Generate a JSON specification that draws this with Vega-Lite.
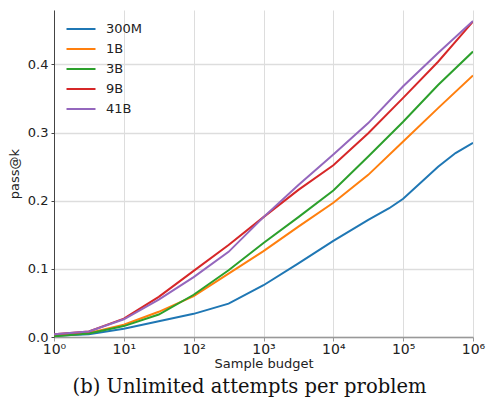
{
  "$schema": "https://vega.github.io/schema/vega-lite/v6.json",
  "width": 419,
  "height": 327,
  "autosize": {"type": "none"},
  "padding": {"left": 54, "top": 10, "right": 23, "bottom": 74},
  "background": "white",
  "title": {"text": "(b) Unlimited attempts per problem", "orient": "bottom", "font": "DejaVu Serif", "fontSize": 19.5, "fontWeight": "normal", "color": "#111", "offset": 8, "anchor": "middle", "dx": -14},
  "data": {"values": [
    {"k": 1, "model": "300M", "p": 0.002}, {"k": 3.162, "model": "300M", "p": 0.004}, {"k": 10, "model": "300M", "p": 0.012}, {"k": 31.62, "model": "300M", "p": 0.023}, {"k": 100, "model": "300M", "p": 0.034}, {"k": 316.2, "model": "300M", "p": 0.049}, {"k": 1000, "model": "300M", "p": 0.076}, {"k": 3162, "model": "300M", "p": 0.108}, {"k": 10000, "model": "300M", "p": 0.141}, {"k": 31623, "model": "300M", "p": 0.172}, {"k": 63096, "model": "300M", "p": 0.189}, {"k": 100000, "model": "300M", "p": 0.203}, {"k": 316228, "model": "300M", "p": 0.250}, {"k": 562341, "model": "300M", "p": 0.270}, {"k": 1000000, "model": "300M", "p": 0.285},
    {"k": 1, "model": "1B", "p": 0.002}, {"k": 3.162, "model": "1B", "p": 0.006}, {"k": 10, "model": "1B", "p": 0.018}, {"k": 31.62, "model": "1B", "p": 0.037}, {"k": 100, "model": "1B", "p": 0.060}, {"k": 316.2, "model": "1B", "p": 0.093}, {"k": 1000, "model": "1B", "p": 0.126}, {"k": 3162, "model": "1B", "p": 0.162}, {"k": 10000, "model": "1B", "p": 0.197}, {"k": 31623, "model": "1B", "p": 0.238}, {"k": 100000, "model": "1B", "p": 0.287}, {"k": 316228, "model": "1B", "p": 0.336}, {"k": 1000000, "model": "1B", "p": 0.384},
    {"k": 1, "model": "3B", "p": 0.001}, {"k": 3.162, "model": "3B", "p": 0.005}, {"k": 10, "model": "3B", "p": 0.016}, {"k": 31.62, "model": "3B", "p": 0.033}, {"k": 100, "model": "3B", "p": 0.062}, {"k": 316.2, "model": "3B", "p": 0.098}, {"k": 1000, "model": "3B", "p": 0.138}, {"k": 3162, "model": "3B", "p": 0.176}, {"k": 10000, "model": "3B", "p": 0.215}, {"k": 31623, "model": "3B", "p": 0.265}, {"k": 100000, "model": "3B", "p": 0.316}, {"k": 316228, "model": "3B", "p": 0.370}, {"k": 1000000, "model": "3B", "p": 0.419},
    {"k": 1, "model": "9B", "p": 0.004}, {"k": 3.162, "model": "9B", "p": 0.008}, {"k": 10, "model": "9B", "p": 0.027}, {"k": 31.62, "model": "9B", "p": 0.059}, {"k": 100, "model": "9B", "p": 0.097}, {"k": 316.2, "model": "9B", "p": 0.135}, {"k": 1000, "model": "9B", "p": 0.176}, {"k": 3162, "model": "9B", "p": 0.216}, {"k": 10000, "model": "9B", "p": 0.252}, {"k": 31623, "model": "9B", "p": 0.299}, {"k": 100000, "model": "9B", "p": 0.351}, {"k": 316228, "model": "9B", "p": 0.404}, {"k": 1000000, "model": "9B", "p": 0.463},
    {"k": 1, "model": "41B", "p": 0.004}, {"k": 3.162, "model": "41B", "p": 0.008}, {"k": 10, "model": "41B", "p": 0.026}, {"k": 31.62, "model": "41B", "p": 0.055}, {"k": 100, "model": "41B", "p": 0.088}, {"k": 316.2, "model": "41B", "p": 0.125}, {"k": 1000, "model": "41B", "p": 0.176}, {"k": 3162, "model": "41B", "p": 0.223}, {"k": 10000, "model": "41B", "p": 0.268}, {"k": 31623, "model": "41B", "p": 0.314}, {"k": 100000, "model": "41B", "p": 0.368}, {"k": 316228, "model": "41B", "p": 0.417}, {"k": 1000000, "model": "41B", "p": 0.464}
  ]},
  "mark": {"type": "line", "strokeWidth": 2, "clip": true},
  "encoding": {
    "x": {"field": "k", "type": "quantitative",
      "scale": {"type": "log", "domain": [1, 1000000], "nice": false},
      "axis": {"title": "Sample budget", "values": [1, 10, 100, 1000, 10000, 100000, 1000000],
        "labelExpr": "'10' + ['⁰','¹','²','³','⁴','⁵','⁶'][round(log(datum.value)/LN10)]",
        "labelFlush": false,
        "labelFont": "DejaVu Sans", "labelFontSize": 14, "labelColor": "#222", "labelPadding": 1,
        "titleFont": "DejaVu Sans", "titleFontSize": 13, "titleFontWeight": "normal", "titleColor": "#222", "titlePadding": 1,
        "grid": true, "gridColor": "#dddddd", "gridWidth": 1,
        "domainColor": "#999999", "domainWidth": 1.5, "tickColor": "#999999", "tickSize": 4, "tickWidth": 1}},
    "y": {"field": "p", "type": "quantitative",
      "scale": {"domain": [0, 0.48], "nice": false},
      "axis": {"title": "pass@k", "values": [0, 0.1, 0.2, 0.3, 0.4], "format": ".1f",
        "labelFont": "DejaVu Sans", "labelFontSize": 13, "labelColor": "#222", "labelPadding": 3,
        "titleFont": "DejaVu Sans", "titleFontSize": 13, "titleFontWeight": "normal", "titleColor": "#222", "titlePadding": 6,
        "grid": true, "gridColor": "#dddddd", "gridWidth": 1.5,
        "domainColor": "#444444", "domainWidth": 1, "tickColor": "#444444", "tickSize": 3}},
    "color": {"field": "model", "type": "nominal",
      "scale": {"domain": ["300M", "1B", "3B", "9B", "41B"], "range": ["#1f77b4", "#ff7f0e", "#2ca02c", "#d62728", "#9467bd"]},
      "legend": {"title": null, "orient": "none", "legendX": 16, "legendY": 8, "symbolType": "M-1.45,0H1.45", "symbolSize": 400, "symbolStrokeWidth": 2,
        "labelFont": "DejaVu Sans", "labelFontSize": 13, "labelColor": "#222", "rowPadding": 2, "labelOffset": 14}}
  },
  "config": {"view": {"stroke": null}}
}
